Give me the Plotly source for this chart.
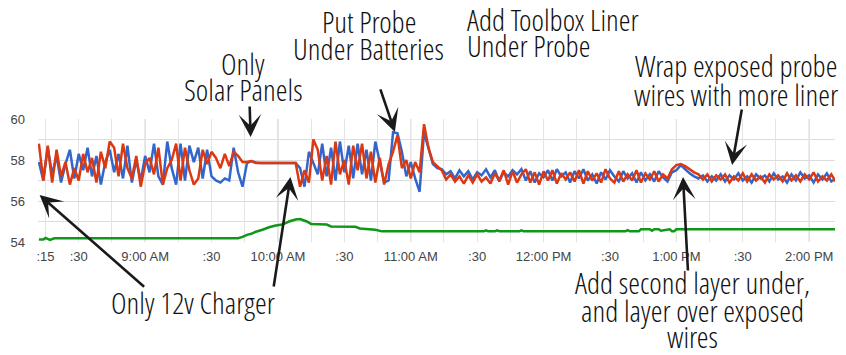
import pandas as pd
import plotly.graph_objects as go

DAY = "2015-06-01 "

# ---- probe temperatures, one sample every 2 minutes starting 08:12 ----
blue_a = [57.9, 57.0, 58.6, 57.3, 58.2, 56.9, 57.8, 58.5, 57.1, 58.3,
          57.5, 58.6, 57.2, 58.2, 56.8, 57.9, 58.5, 57.4, 58.3, 57.1,
          58.7, 56.9, 58.0, 57.0, 58.2, 57.4, 58.8, 57.2, 56.8, 58.9,
          57.6, 56.8, 58.8, 57.0, 58.7, 57.9, 58.6, 57.1, 58.5, 57.2,
          57.0, 56.9, 57.1, 57.0, 58.6, 57.4, 56.7]
red_a = [58.8, 57.0, 58.7, 56.9, 58.5, 57.2, 57.9, 56.8, 57.6, 57.0,
         58.3, 57.4, 58.1, 56.9, 58.4, 57.6, 58.9, 58.6, 57.2, 58.8,
         57.6, 57.1, 58.2, 56.7, 57.8, 58.1, 57.3, 58.6, 56.8, 57.6,
         58.0, 58.8, 57.0, 58.6, 57.5, 56.8, 57.1, 58.5, 57.8, 58.4,
         58.1, 57.6, 58.3, 57.7, 58.4, 58.2, 57.9]

blue_flat = [57.85, 57.95, 57.88, 57.85, 57.85, 57.85, 57.85, 57.85, 57.85, 57.85, 57.85, 57.85]
red_flat = [57.9, 57.95, 57.85, 57.85, 57.85, 57.85, 57.85, 57.85, 57.85, 57.85, 57.85, 57.85]

blue_c = [57.6, 56.7, 58.4, 57.8, 57.3, 58.8, 57.2, 58.6, 57.0, 58.9,
          57.4, 58.7, 57.1, 58.8, 57.3, 58.5, 57.0, 58.9, 57.9, 56.9,
          57.0, 59.35, 59.3, 58.4, 57.2, 57.9, 57.1, 56.45, 59.35, 58.6,
          57.8, 57.6]
red_c = [56.7, 57.5, 56.9, 59.0, 58.5, 57.0, 58.2, 56.8, 58.9, 57.3,
         58.0, 56.8, 58.7, 57.5, 58.8, 57.1, 58.4, 56.9, 58.1, 56.8,
         57.8, 58.4, 59.2, 57.6, 58.0, 57.1, 57.9, 57.4, 59.75, 58.6,
         57.9, 57.7]

blue_d = [57.55, 57.3, 57.45, 57.1, 57.5, 57.2, 57.45, 57.05, 57.4, 57.25,
          57.55, 57.15, 57.5, 56.95, 57.4, 57.2, 57.5, 57.3, 57.55, 57.0,
          57.45, 56.9, 57.35, 57.15, 57.5, 57.0, 57.55, 57.2, 57.4]
red_d = [57.5, 57.05, 57.3, 56.95, 57.2, 56.85, 57.25, 56.9, 57.3, 56.95,
         57.15, 56.85, 57.35, 57.0, 57.5, 56.8, 57.45, 56.9, 57.3, 57.55,
         56.9, 57.4, 56.8, 57.45, 57.0, 57.5, 56.85, 57.35, 57.05]

blue_e = [56.9, 57.45, 57.1, 57.55, 57.0, 57.3, 56.85, 57.4, 57.05, 57.5,
          57.2, 56.95, 57.45, 57.1, 57.35, 56.9, 57.4, 57.0, 57.3, 56.95,
          57.45, 57.15, 56.95]
red_e = [57.4, 56.95, 57.5, 56.85, 57.45, 57.0, 57.35, 56.9, 57.55, 57.1,
         56.9, 57.45, 56.95, 57.3, 57.0, 57.5, 56.9, 57.35, 57.05, 57.45,
         56.95, 57.3, 57.1]

blue_bump = [57.4, 57.5, 57.75, 57.55, 57.35, 57.2, 57.1]
red_bump = [57.55, 57.75, 57.8, 57.7, 57.55, 57.4, 57.3]

blue_f = [57.25, 56.95, 57.2, 57.0, 57.3, 56.95, 57.25, 57.05, 57.35, 57.0,
          57.2, 56.9, 57.3, 57.1, 57.25, 56.95, 57.35, 57.05, 57.2, 56.9,
          57.3, 57.0, 57.4, 57.1, 57.25, 56.9, 57.3, 57.05, 57.35, 56.95, 57.1]
red_f = [57.05, 57.3, 56.95, 57.25, 57.05, 57.3, 56.9, 57.2, 57.0, 57.35,
         56.95, 57.3, 57.0, 57.2, 56.9, 57.3, 57.05, 57.25, 56.95, 57.35,
         57.0, 57.25, 56.95, 57.3, 57.05, 57.4, 56.95, 57.2, 57.0, 57.3, 56.95]

blue = blue_a + blue_flat + blue_c + blue_d + blue_e + blue_bump + blue_f
red = red_a + red_flat + red_c + red_d + red_e + red_bump + red_f
probe_times = pd.date_range(DAY + "08:12", periods=len(red), freq="2min")

# ---- third (green) series ----
green_times = ["08:12", "08:14", "08:15", "08:17", "08:19", "09:42", "09:44", "09:46",
               "09:48", "09:50", "09:53", "09:56", "09:59", "10:02", "10:05", "10:08",
               "10:10", "10:13", "10:15", "10:22", "10:24", "10:35", "10:37", "10:44",
               "10:47", "11:33", "11:34", "11:35", "11:38", "11:39", "11:40", "11:49",
               "11:50", "11:51", "12:37", "12:38", "12:39", "12:43", "12:44", "12:48",
               "12:49", "12:50", "12:52", "12:53", "12:57", "12:58", "12:59", "13:00",
               "14:12"]
green_vals = [54.12, 54.12, 54.2, 54.1, 54.18, 54.18, 54.25, 54.35,
              54.4, 54.5, 54.6, 54.72, 54.8, 54.85, 55.0, 55.1,
              55.12, 55.0, 54.88, 54.85, 54.76, 54.74, 54.66, 54.6,
              54.52, 54.52, 54.57, 54.52, 54.52, 54.57, 54.52, 54.52,
              54.57, 54.52, 54.52, 54.58, 54.52, 54.52, 54.62, 54.62,
              54.55, 54.62, 54.62, 54.55, 54.62, 54.53, 54.53, 54.62,
              54.62]

# ---- axis ticks ----
tick_vals = pd.date_range(DAY + "08:15", periods=24, freq="15min")
tick_text = [":15", ":30", "", "9:00 AM", "", ":30", "", "10:00 AM", "", ":30", "",
             "11:00 AM", "", ":30", "", "12:00 PM", "", ":30", "", "1:00 PM", "",
             ":30", "", "2:00 PM"]
hour_lines = pd.date_range(DAY + "09:00", DAY + "14:00", freq="60min")

fig = go.Figure()
fig.add_trace(go.Scatter(x=probe_times, y=blue, mode="lines",
                         line=dict(color="#3366cc", width=2.5)))
fig.add_trace(go.Scatter(x=probe_times, y=red, mode="lines",
                         line=dict(color="#dc3912", width=2.5)))
fig.add_trace(go.Scatter(x=[pd.Timestamp(DAY + t) for t in green_times], y=green_vals,
                         mode="lines", line=dict(color="#109618", width=2.5)))

shapes = [dict(type="line", xref="x", yref="paper", x0=h, x1=h, y0=0, y1=1,
               line=dict(color="#c6c6c6", width=1), layer="below") for h in hour_lines]

ANN_FONT = dict(family="Open Sans Condensed Light, Open Sans Condensed", size=30,
                color="#111111")

# one entry per text line: text, paper x, paper y, anchor
note_lines = [
    ("Only", 0.2575, 1.455, "center"),
    ("Solar Panels", 0.2575, 1.236, "center"),
    ("Put Probe", 0.415, 1.789, "center"),
    ("Under Batteries", 0.415, 1.577, "center"),
    ("Add Toolbox Liner", 0.536, 1.813, "left"),
    ("Under Probe", 0.536, 1.595, "left"),
    ("Wrap exposed probe", 0.876, 1.431, "center"),
    ("wires with more liner", 0.876, 1.203, "center"),
    ("Only 12v Charger", 0.194, -0.488, "center"),
    ("Add second layer under,", 0.821, -0.333, "center"),
    ("and layer over exposed", 0.821, -0.553, "center"),
    ("wires", 0.821, -0.766, "center"),
]
annotations = []
for txt, px, py, anchor in note_lines:
    annotations.append(dict(text=txt, xref="paper", yref="paper", x=px, y=py,
                            xanchor=anchor, yanchor="middle", align=anchor,
                            showarrow=False, font=ANN_FONT))

arrows = [
    (DAY + "09:47:40", 59.12, -1, -32),
    (DAY + "10:52:50", 59.37, -15, -44),
    (DAY + "11:09:05", 60.05, 14, -63),
    (DAY + "13:25:10", 57.76, 10, -57),
    (DAY + "08:12:20", 56.29, 106, 93),
    (DAY + "10:05:40", 57.17, -17, 111),
    (DAY + "13:03:00", 57.17, 5, 95),
]
for ax_t, ay_v, dx, dy in arrows:
    annotations.append(dict(text="", x=ax_t, y=ay_v, xref="x", yref="y",
                            ax=dx, ay=dy, showarrow=True, arrowhead=3,
                            arrowsize=1.45, arrowwidth=2.6, arrowcolor="#1a1a1a",
                            standoff=0))

fig.update_layout(
    width=846, height=355,
    margin=dict(l=35, r=11, t=119, b=113),
    paper_bgcolor="white", plot_bgcolor="white",
    showlegend=False,
    shapes=shapes,
    annotations=annotations,
    font=dict(family="Arial, Liberation Sans, sans-serif", size=13, color="#444444"),
    xaxis=dict(type="date", range=[DAY + "08:11:36", DAY + "14:11:40"],
               tickmode="array", tickvals=tick_vals, ticktext=tick_text,
               showgrid=True, gridcolor="#e3e3e3", gridwidth=1,
               zeroline=False, showline=False, ticks="", ticklabelstandoff=5,
               tickfont=dict(size=13, color="#444444")),
    yaxis=dict(range=[54, 60], tickmode="array", tickvals=[54, 56, 58, 60],
               showgrid=True, gridcolor="#dcdcdc", gridwidth=1,
               minor=dict(tickmode="linear", tick0=54, dtick=1, showgrid=True,
                          gridcolor="#dcdcdc", gridwidth=1),
               zeroline=False, showline=False, ticks="", ticklabelstandoff=12,
               tickfont=dict(size=13, color="#444444")),
)

fig.write_html("out.html")
